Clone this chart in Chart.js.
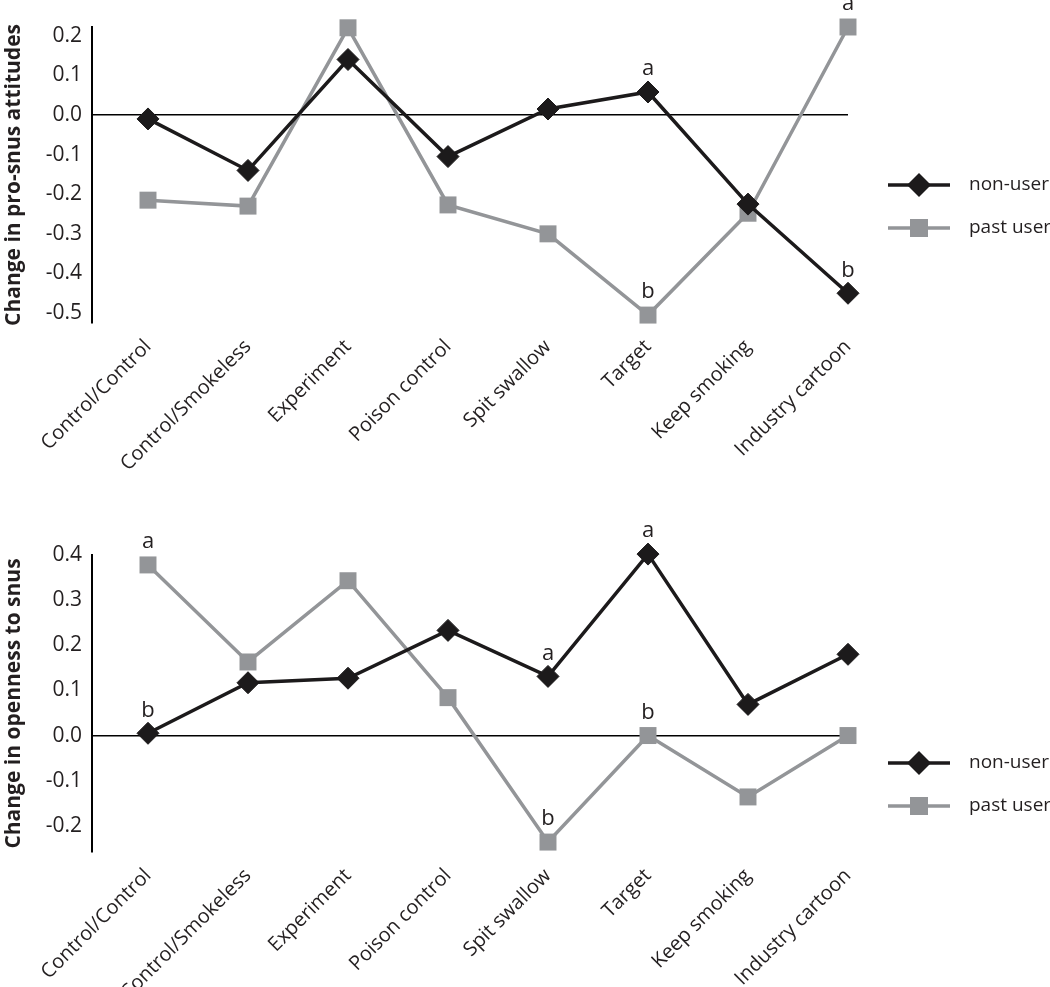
<!DOCTYPE html>
<html>
<head>
<meta charset="utf-8">
<script src="https://cdn.jsdelivr.net/npm/chart.js@4.4.1/dist/chart.umd.min.js"></script>
<style>
  html, body { margin: 0; padding: 0; background: #fff; }
  canvas { display: block; }
</style>
</head>
<body>
<canvas id="attitudeChart" width="1050" height="500"></canvas>
<canvas id="opennessChart" width="1050" height="487"></canvas>
<script>
const categories = ["Control/Control", "Control/Smokeless", "Experiment", "Poison control",
  "Spit swallow", "Target", "Keep smoking", "Industry cartoon"];
const seriesNames = ["non-user", "past user"];

// change in pro-snus attitudes
const attitudeNonUser = [-0.01, -0.14, 0.14, -0.105, 0.015, 0.058, -0.225, -0.45];
const attitudePastUser = [-0.215, -0.23, 0.22, -0.227, -0.30, -0.505, -0.248, 0.222];
const attitudeNonUserMarks = ["", "", "", "", "", "a", "", "b"];
const attitudePastUserMarks = ["", "", "", "", "", "b", "", "a"];
const attitudeTicks = [-0.5, -0.4, -0.3, -0.2, -0.1, 0.0, 0.1, 0.2];

// change in openness to snus
const opennessNonUser = [0.005, 0.117, 0.127, 0.233, 0.131, 0.402, 0.069, 0.18];
const opennessPastUser = [0.378, 0.163, 0.343, 0.084, -0.236, 0.0, -0.136, 0.0];
const opennessNonUserMarks = ["b", "", "", "", "a", "a", "", ""];
const opennessPastUserMarks = ["a", "", "", "", "b", "b", "", ""];
const opennessTicks = [-0.2, -0.1, 0.0, 0.1, 0.2, 0.3, 0.4];

const FONT = "'Open Sans', 'Noto Sans', sans-serif";
const INK = "#231f20";
const DARK = "#1c1a1b";
const GREY = "#939598";

// significance letters above the points
const markLetters = {
  id: "markLetters",
  afterDatasetsDraw(chart) {
    const { ctx } = chart;
    ctx.save();
    ctx.font = `22px ${FONT}`;
    ctx.fillStyle = INK;
    ctx.textAlign = "center";
    ctx.textBaseline = "middle";
    chart.data.datasets.forEach((ds, i) => {
      const meta = chart.getDatasetMeta(i);
      (ds.marks || []).forEach((m, j) => {
        if (!m) return;
        const pt = meta.data[j];
        ctx.fillText(m, pt.x, pt.y - 23);
      });
    });
    ctx.restore();
  },
};

// legend with line + marker, like the original figure
const sideLegend = {
  id: "sideLegend",
  afterDraw(chart, args, opts) {
    const { ctx } = chart;
    ctx.save();
    chart.data.datasets.forEach((ds, i) => {
      const y = opts.rows[i];
      const x = opts.x;
      ctx.strokeStyle = ds.borderColor;
      ctx.lineWidth = 3.5;
      ctx.beginPath();
      ctx.moveTo(x, y);
      ctx.lineTo(x + 62, y);
      ctx.stroke();
      ctx.fillStyle = ds.backgroundColor;
      ctx.beginPath();
      if (ds.pointStyle === "rectRot") {
        ctx.moveTo(x + 31 - 12, y);
        ctx.lineTo(x + 31, y - 12);
        ctx.lineTo(x + 31 + 12, y);
        ctx.lineTo(x + 31, y + 12);
        ctx.closePath();
      } else {
        ctx.rect(x + 31 - 9, y - 9, 18, 18);
      }
      ctx.fill();
      ctx.font = `19px ${FONT}`;
      ctx.fillStyle = INK;
      ctx.textAlign = "left";
      ctx.textBaseline = "middle";
      ctx.fillText(ds.label, x + 81, y);
    });
    ctx.restore();
  },
};

function makeChart(id, cfg) {
  return new Chart(document.querySelector(id), {
    type: "line",
    data: {
      datasets: [
        {
          label: seriesNames[0],
          data: cfg.nonUser.map((v, i) => ({ x: i, y: v })),
          marks: cfg.nonUserMarks,
          borderColor: DARK,
          backgroundColor: DARK,
          borderWidth: 3.5,
          pointStyle: "rectRot",
          pointRadius: 11,
          pointBorderWidth: 1,
          clip: false,
          order: 1,
        },
        {
          label: seriesNames[1],
          data: cfg.pastUser.map((v, i) => ({ x: i, y: v })),
          marks: cfg.pastUserMarks,
          borderColor: GREY,
          backgroundColor: GREY,
          borderWidth: 3.5,
          pointStyle: "rect",
          pointRadius: 12,
          pointBorderWidth: 0,
          clip: false,
          order: 2,
        },
      ],
    },
    options: {
      responsive: false,
      animation: false,
      events: [],
      layout: { padding: { left: 0, right: 202, top: cfg.topPad, bottom: 0 } },
      plugins: {
        legend: { display: false },
        tooltip: { enabled: false },
        sideLegend: { x: 888, rows: cfg.legendRows },
      },
      scales: {
        x: {
          type: "linear",
          min: -0.56,
          max: 7,
          afterFit: (scale) => { scale.height = cfg.xHeight; },
          afterBuildTicks: (scale) => { scale.ticks = categories.map((c, i) => ({ value: i })); },
          grid: { display: false, drawTicks: false },
          border: { display: false },
          ticks: {
            autoSkip: false,
            minRotation: 45,
            maxRotation: 45,
            padding: 12,
            color: INK,
            font: { family: FONT, size: 20 },
            callback: (v) => categories[v] ?? "",
          },
        },
        y: {
          min: cfg.yMin,
          max: cfg.yMax,
          afterFit: (scale) => { scale.width = 92; },
          afterBuildTicks: (scale) => { scale.ticks = cfg.ticks.map((v) => ({ value: v })); },
          grid: {
            drawTicks: false,
            color: (c) => (c.tick && Math.abs(c.tick.value) < 1e-9 ? "#000" : "rgba(0,0,0,0)"),
            lineWidth: 1.5,
          },
          border: { display: true, color: "#000", width: 2 },
          title: {
            display: true,
            text: cfg.title,
            color: INK,
            font: { family: FONT, size: 21, weight: "bold" },
            padding: { top: 1, bottom: 0 },
          },
          ticks: {
            padding: 10,
            color: INK,
            font: { family: FONT, size: 21 },
            callback: (v) => Number(v).toFixed(1),
          },
        },
      },
    },
    plugins: [markLetters, sideLegend],
  });
}

makeChart("#attitudeChart", {
  nonUser: attitudeNonUser,
  pastUser: attitudePastUser,
  nonUserMarks: attitudeNonUserMarks,
  pastUserMarks: attitudePastUserMarks,
  ticks: attitudeTicks,
  yMin: -0.525,
  yMax: 0.222,
  title: "Change in pro-snus attitudes",
  legendRows: [185, 228],
  topPad: 27,
  xHeight: 177,
});

makeChart("#opennessChart", {
  nonUser: opennessNonUser,
  pastUser: opennessPastUser,
  nonUserMarks: opennessNonUserMarks,
  pastUserMarks: opennessPastUserMarks,
  ticks: opennessTicks,
  yMin: -0.258,
  yMax: 0.4,
  title: "Change in openness to snus",
  legendRows: [263, 306],
  topPad: 55,
  xHeight: 135,
});
</script>
</body>
</html>
